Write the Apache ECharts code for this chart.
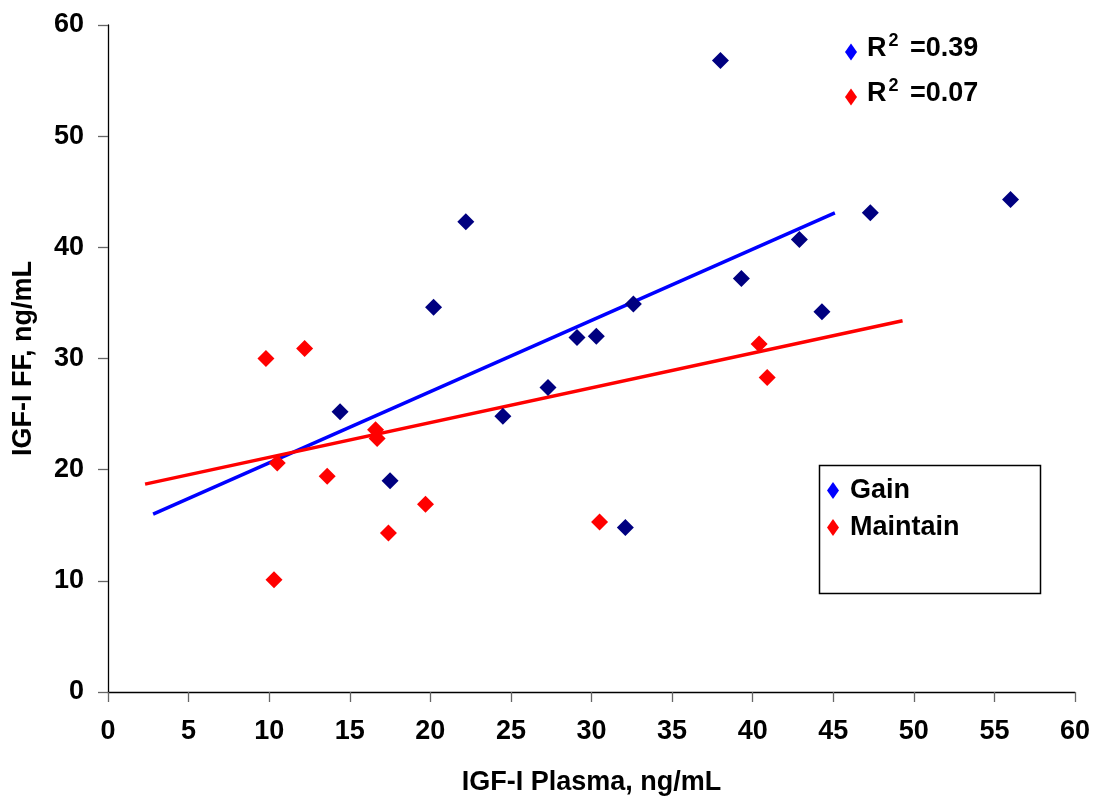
<!DOCTYPE html>
<html>
<head>
<meta charset="utf-8">
<script src="https://cdn.jsdelivr.net/npm/echarts@6/dist/echarts.min.js"></script>
<style>
  html, body { margin: 0; padding: 0; background: #fff; }
  #chart { width: 1096px; height: 801px; }
</style>
</head>
<body>
<div id="chart"></div>
<script>
// IGF-I in plasma vs. follicular fluid, by weight group
var gainX = [14.4, 17.5, 20.2, 22.2, 24.5, 27.3, 29.1, 30.3, 32.1, 32.6, 38.0, 39.3, 42.9, 44.3, 47.3, 56.0];
var gainY = [25.2, 19.0, 34.6, 42.3, 24.8, 27.4, 31.9, 32.0, 14.8, 34.9, 56.8, 37.2, 40.7, 34.2, 43.1, 44.3];

var maintainX = [9.8, 12.2, 10.5, 10.3, 13.6, 16.6, 16.7, 17.4, 19.7, 30.5, 40.4, 40.9];
var maintainY = [30.0, 30.9, 20.6, 10.1, 19.4, 23.6, 22.8, 14.3, 16.9, 15.3, 31.3, 28.3];

// Fitted trend lines (start and end points)
var gainTrendX = [2.8, 45.1];
var gainTrendY = [16.0, 43.1];
var maintainTrendX = [2.3, 49.3];
var maintainTrendY = [18.7, 33.4];

var r2Labels = ['0.39', '0.07'];
var groupNames = ['Gain', 'Maintain'];

var xTicks = { min: 0, max: 60, interval: 5 };
var yTicks = { min: 0, max: 60, interval: 10 };

function pairs(xs, ys) {
  return xs.map(function (x, i) { return [x, ys[i]]; });
}

var FONT = '"Liberation Sans", Arial, sans-serif';
var FS = 27;
var chart = echarts.init(document.getElementById('chart'), null, { renderer: 'canvas' });

function diamond(cx, cy, color) {
  return {
    type: 'polygon',
    shape: { points: [[cx, cy - 8.5], [cx + 6, cy], [cx, cy + 8.5], [cx - 6, cy]] },
    style: { fill: color }
  };
}

function r2Text(x, y, val) {
  return {
    type: 'text',
    left: x, top: y,
    style: {
      text: '{r|R}{s|2}{r| =' + val + '}',
      rich: {
        r: { fontFamily: FONT, fontWeight: 'bold', fontSize: FS, fill: '#000', verticalAlign: 'bottom', lineHeight: 30 },
        s: { fontFamily: FONT, fontWeight: 'bold', fontSize: 18, fill: '#000', verticalAlign: 'top', lineHeight: 30, padding: [0, 4, 13, 2] }
      }
    }
  };
}

chart.setOption({
  backgroundColor: '#fff',
  animation: false,
  grid: { left: 108, right: 21, top: 25, bottom: 107.5, containLabel: false },
  xAxis: {
    type: 'value',
    min: xTicks.min, max: xTicks.max, interval: xTicks.interval,
    name: 'IGF-I Plasma, ng/mL',
    nameLocation: 'middle',
    nameGap: 77,
    nameTextStyle: { fontFamily: FONT, fontWeight: 'bold', fontSize: FS, color: '#000' },
    axisLine: { show: true, onZero: false, lineStyle: { color: '#000', width: 1.3 } },
    axisTick: { show: true, length: 10, inside: false, lineStyle: { color: '#666', width: 1.3 } },
    axisLabel: { margin: 26, fontFamily: FONT, fontWeight: 'bold', fontSize: FS, color: '#000' },
    splitLine: { show: false }
  },
  yAxis: {
    type: 'value',
    min: yTicks.min, max: yTicks.max, interval: yTicks.interval,
    name: 'IGF-I FF, ng/mL',
    nameLocation: 'middle',
    nameGap: 71,
    nameTextStyle: { fontFamily: FONT, fontWeight: 'bold', fontSize: FS, color: '#000' },
    axisLine: { show: true, onZero: false, lineStyle: { color: '#000', width: 1.3 } },
    axisTick: { show: true, length: 10, inside: false, lineStyle: { color: '#666', width: 1.3 } },
    axisLabel: { margin: 24, fontFamily: FONT, fontWeight: 'bold', fontSize: FS, color: '#000' },
    splitLine: { show: false }
  },
  legend: {
    orient: 'vertical',
    left: 822, top: 472,
    itemGap: 10,
    itemWidth: 12, itemHeight: 17,
    icon: 'diamond',
    textStyle: { fontFamily: FONT, fontWeight: 'bold', fontSize: FS, color: '#000', padding: [0, 0, 0, 6] },
    data: [
      { name: groupNames[0], itemStyle: { color: '#0000FF' } },
      { name: groupNames[1], itemStyle: { color: '#FF0000' } }
    ]
  },
  graphic: [
    {
      type: 'rect',
      shape: { x: 819.5, y: 465.5, width: 221, height: 128 },
      style: { fill: 'none', stroke: '#000', lineWidth: 1.5 },
      z: 0
    },
    diamond(851, 52, '#0000FF'),
    diamond(851, 97, '#FF0000'),
    r2Text(867, 32, r2Labels[0]),
    r2Text(867, 77, r2Labels[1])
  ],
  series: [
    {
      name: 'gainTrend', type: 'line', data: pairs(gainTrendX, gainTrendY),
      symbol: 'none', lineStyle: { color: '#0000FF', width: 3.5 }, z: 2, silent: true
    },
    {
      name: 'maintainTrend', type: 'line', data: pairs(maintainTrendX, maintainTrendY),
      symbol: 'none', lineStyle: { color: '#FF0000', width: 3.5 }, z: 2, silent: true
    },
    {
      name: groupNames[0], type: 'scatter', data: pairs(gainX, gainY),
      symbol: 'diamond', symbolSize: 17, itemStyle: { color: '#000080', opacity: 1 }, z: 3
    },
    {
      name: groupNames[1], type: 'scatter', data: pairs(maintainX, maintainY),
      symbol: 'diamond', symbolSize: 17, itemStyle: { color: '#FF0000', opacity: 1 }, z: 3
    }
  ]
});
</script>
</body>
</html>
